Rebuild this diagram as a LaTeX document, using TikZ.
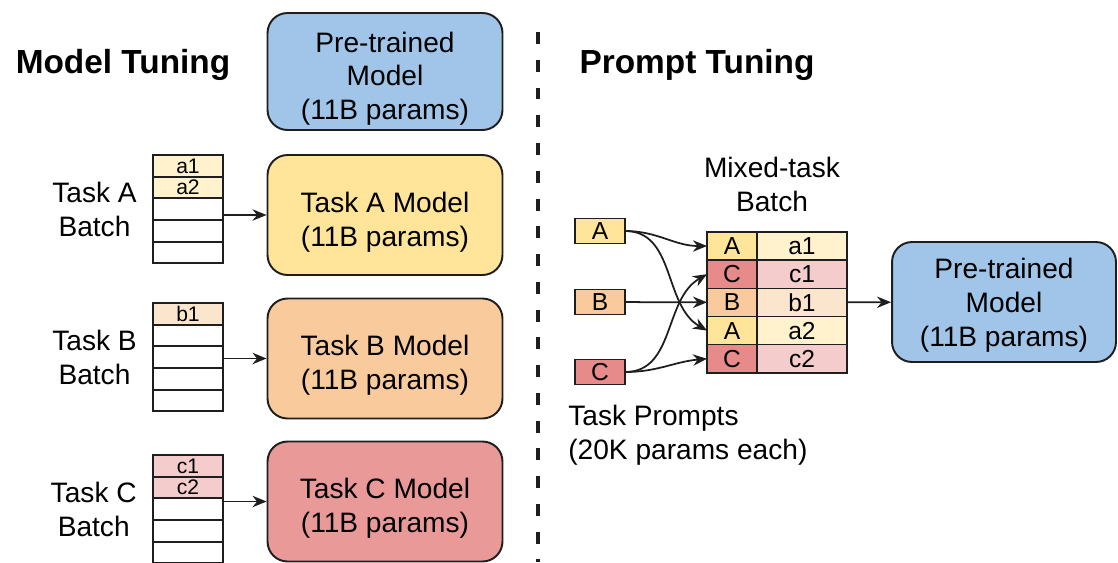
\documentclass[tikz,border=0pt]{standalone}
\usepackage{fontspec}
\setmainfont{Liberation Sans}
\usetikzlibrary{positioning}
\usetikzlibrary{arrows.meta}
\usetikzlibrary{calc}

\definecolor{ptblue}{RGB}{160,197,232}
\definecolor{tuneA}{RGB}{255,229,153}
\definecolor{tuneB}{RGB}{249,203,156}
\definecolor{tuneC}{RGB}{234,153,153}
\definecolor{tagC}{RGB}{230,138,138}
\definecolor{softA}{RGB}{255,242,204}
\definecolor{softB}{RGB}{252,229,205}
\definecolor{softC}{RGB}{244,204,204}
\definecolor{edge}{RGB}{30,30,30}

\tikzset{>={Stealth[length=8pt, width=6.5pt, inset=2.6pt]}}
\tikzset{modelbox/.style={draw=edge, line width=1.1pt, rounded corners=0.4cm, minimum width=4.7cm, minimum height=2.4cm, inner ysep=0pt, text height=38.8pt, align=center, font=\fontsize{16}{19.3}\selectfont}}
\tikzset{batchcell/.style={draw=edge, line width=1.1pt, minimum width=1.4cm, minimum height=0.432cm, inner sep=0pt, outer sep=0pt, font=\fontsize{12}{12}\selectfont}}
\tikzset{prompt/.style={draw=edge, line width=0.9pt, minimum width=1cm, minimum height=0.5cm, inner sep=0pt, outer sep=0pt, font=\fontsize{14}{14}\selectfont}}
\tikzset{mixtag/.style={prompt, minimum height=0.564cm}}
\tikzset{mixval/.style={prompt, minimum width=1.8cm, minimum height=0.564cm}}
\tikzset{plain/.style={align=center, inner sep=0pt, font=\fontsize{16}{19.3}\selectfont}}
\tikzset{head/.style={inner sep=0pt, font=\fontsize{19}{23}\selectfont\bfseries}}
\tikzset{feed/.style={->, line width=1pt, draw=edge}}
\tikzset{divider/.style={draw=edge, line width=2.3pt, dash pattern=on 6.8pt off 9pt}}

\begin{document}
\begin{tikzpicture}[x=0.02cm, y=0.02cm]
\useasboundingbox (0,0) rectangle (1118,-562);

\node[head] (mt) at (123,-65) {Model Tuning};
\node[head] (pt) at (697,-65) {Prompt Tuning};

\coordinate (divtop) at (538,-32);
\coordinate (divbot) at (538,-562);
\draw[divider] (divtop) -- (divbot);

\node[modelbox, fill=ptblue, minimum height=2.34cm, text height=58.4pt] (base) at (385,-71.5) {Pre-trained\\Model\\(11B params)};
\node[modelbox, fill=tuneA] (modA) at (385,-215) {Task A Model\\(11B params)};
\node[modelbox, fill=tuneB] (modB) at (385,-358.5) {Task B Model\\(11B params)};
\node[modelbox, fill=tuneC] (modC) at (385,-501.5) {Task C Model\\(11B params)};

\node[batchcell, fill=softA] (a1) at (188,-166) {a1};
\node[batchcell, fill=softA, below=0pt of a1] (a2) {a2};
\node[batchcell, below=0pt of a2] (a3) {};
\node[batchcell, below=0pt of a3] (a4) {};
\node[batchcell, below=0pt of a4] (a5) {};
\node[plain, left=0.32cm of a3] (batA) {Task A\\Batch};
\draw[feed] (modA.west -| a3.east) -- (modA.west);

\node[batchcell, fill=softB] (b1) at (188,-314) {b1};
\node[batchcell, below=0pt of b1] (b2) {};
\node[batchcell, below=0pt of b2] (b3) {};
\node[batchcell, below=0pt of b3] (b4) {};
\node[batchcell, below=0pt of b4] (b5) {};
\node[plain, left=0.32cm of b3] (batB) {Task B\\Batch};
\draw[feed] (modB.west -| b3.east) -- (modB.west);

\node[batchcell, fill=softC] (c1) at (188,-466) {c1};
\node[batchcell, fill=softC, below=0pt of c1] (c2) {c2};
\node[batchcell, below=0pt of c2] (c3) {};
\node[batchcell, below=0pt of c3] (c4) {};
\node[batchcell, below=0pt of c4] (c5) {};
\node[plain, left=0.32cm of c3] (batC) {Task C\\Batch};
\draw[feed] (modC.west -| c3.east) -- (modC.west);

\node[prompt, fill=tuneA] (pA) at (600,-231) {A};
\node[prompt, fill=tuneB] (pB) at (600,-302) {B};
\node[prompt, fill=tagC] (pC) at (600,-372) {C};

\node[mixtag, fill=tuneA] (mA1) at (732,-246) {A};
\node[mixval, fill=softA, right=0pt of mA1] (va1) {a1};
\node[mixtag, fill=tagC, below=0pt of mA1] (mC1) {C};
\node[mixval, fill=softC, right=0pt of mC1] (vc1) {c1};
\node[mixtag, fill=tuneB, below=0pt of mC1] (mB1) {B};
\node[mixval, fill=softB, right=0pt of mB1] (vb1) {b1};
\node[mixtag, fill=tuneA, below=0pt of mB1] (mA2) {A};
\node[mixval, fill=softA, right=0pt of mA2] (va2) {a2};
\node[mixtag, fill=tagC, below=0pt of mA2] (mC2) {C};
\node[mixval, fill=softC, right=0pt of mC2] (vc2) {c2};
\node[plain] (mixlab) at (772,-184) {Mixed-task\\Batch};

\node[modelbox, fill=ptblue, minimum width=4.48cm, text height=53.4pt] (baseR) at (1004,-302) {Pre-trained\\Model\\(11B params)};

\node[plain, align=left, anchor=west] (tp) at (568,-435) {Task Prompts\\(20K params each)};

\draw[feed] (pA.east) to[out=0, in=180] (mA1.west);
\draw[feed] (pA.east) to[out=0, in=150] (mA2.west);
\draw[feed] (pB) -- (mB1);
\draw[feed] (pC.east) to[out=0, in=210] (mC1.west);
\draw[feed] (pC.east) to[out=0, in=185] (mC2.west);
\draw[feed] (vb1) -- (baseR);
\end{tikzpicture}
\end{document}
